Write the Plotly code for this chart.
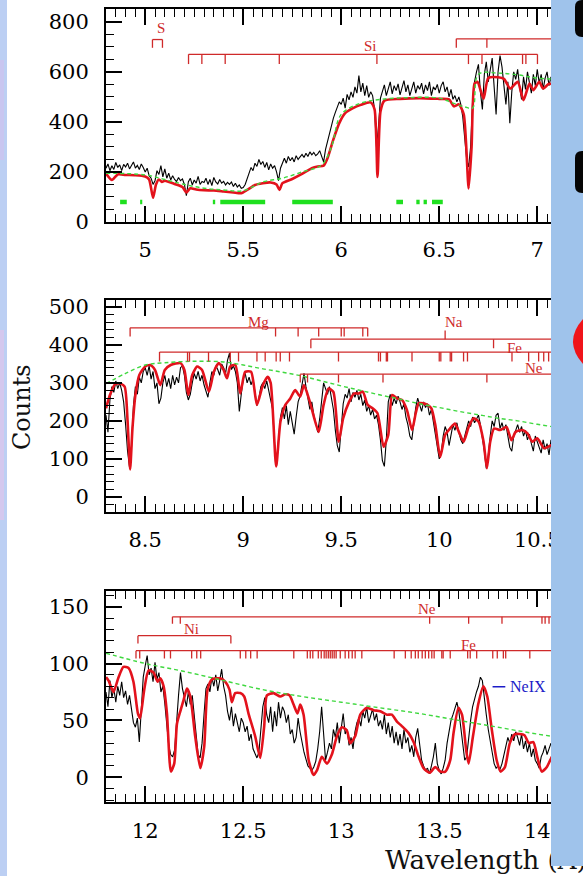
import plotly.graph_objects as go

W, H = 583, 876
BIN = 0.01

# ---------------- panel 1 : Si / S region ----------------
P1_START = 4.80
p1_counts = [
    215, 232, 205, 225, 210, 238, 218, 228, 205, 230,
    220, 235, 212, 228, 240, 215, 226, 210, 232, 218,
    200, 215, 185, 175, 150, 165, 205, 190, 225, 180,
    212, 175, 195, 168, 185, 170, 162, 178, 165, 172,
    150, 105, 160, 175, 148, 168, 155, 182, 150, 162,
    158, 175, 150, 170, 145, 178, 160, 152, 170, 155,
    162, 148, 158, 150, 160, 142, 155, 140, 148, 135,
    138, 150, 172, 190, 218, 205, 235, 222, 250, 230,
    242, 218, 238, 208, 232, 215, 225, 200, 165, 215,
    238, 255, 235, 262, 245, 258, 240, 265, 250, 262,
    270, 258, 275, 262, 280, 268, 278, 265, 272, 285,
    262, 240, 290, 320, 355, 390, 415, 438, 462, 480,
    470, 495, 455, 510, 488, 520, 498, 540, 515, 585,
    520, 555, 505, 545, 498, 520, 505, 450, 300, 380,
    495, 520, 548, 505, 535, 560, 512, 545, 525, 552,
    508, 540, 565, 520, 548, 505, 538, 560, 515, 545,
    530, 555, 512, 548, 525, 560, 505, 540, 528, 550,
    515, 545, 560, 520, 540, 500, 530, 490, 505, 480,
    500, 470, 420, 320, 250, 220, 300, 480, 560, 600,
    630, 520, 450, 590, 640, 560, 610, 655, 540, 430,
    600, 665, 620, 530, 470, 560, 395, 520, 600, 570,
    610, 540, 490, 580, 530, 600, 560, 515, 590, 545,
    610, 555, 590, 530, 575, 600, 545, 580, 560, 590, 570,
]
p1_model_wl = [4.80, 4.83, 4.86, 4.90, 4.95, 5.00, 5.02, 5.04, 5.055, 5.07, 5.085, 5.10,
               5.15, 5.19, 5.21, 5.23, 5.26, 5.30, 5.35, 5.40, 5.45, 5.49, 5.52, 5.56,
               5.60, 5.64, 5.67, 5.685, 5.70, 5.75, 5.80, 5.85, 5.88, 5.91, 5.93, 5.96,
               5.99, 6.02, 6.06, 6.10, 6.15, 6.17, 6.185, 6.20, 6.22, 6.30, 6.40, 6.50,
               6.55, 6.575, 6.60, 6.625, 6.65, 6.665, 6.68, 6.695, 6.726, 6.75, 6.80,
               6.83, 6.862, 6.90, 6.93, 6.96, 6.98, 7.01, 7.03, 7.06, 7.10, 7.20]
p1_model = [194, 168, 190, 188, 187, 182, 170, 97, 150, 170, 160, 165,
            152, 140, 118, 135, 130, 127, 126, 122, 118, 115, 128, 148,
            155, 158, 150, 128, 155, 172, 192, 215, 222, 225, 255, 330,
            395, 435, 455, 468, 478, 450, 180, 440, 485, 492, 495, 492,
            490, 462, 470, 430, 134, 300, 553, 560, 493, 575, 578,
            572, 533, 560, 487, 553, 527, 560, 533, 552, 548, 550]
p1_cont_wl = [4.80, 5.00, 5.10, 5.20, 5.30, 5.40, 5.50, 5.60, 5.70, 5.80, 5.90, 5.95,
              6.00, 6.10, 6.20, 6.35, 6.50, 6.57, 6.63, 6.67, 6.70, 6.80, 6.90, 7.00, 7.20]
p1_cont = [195, 188, 170, 150, 135, 128, 125, 160, 175, 200, 228, 300,
           430, 475, 490, 497, 495, 475, 460, 455, 590, 595, 588, 575, 568]
p1_fit_ranges = [(4.872, 4.906), (4.974, 4.985), (5.345, 5.357), (5.383, 5.612),
                 (5.750, 5.957), (6.281, 6.315), (6.383, 6.400), (6.420, 6.437),
                 (6.463, 6.518)]
P1_FIT_LEVEL = 80
# name, bar level, tick drop, bar start, bar end, tick wavelengths
p1_ids = [
    ("S", 729, 33, 5.037, 5.088, [5.037, 5.088]),
    ("Si", 670, 39, 5.221, 7.001,
     [5.221, 5.289, 5.408, 5.684, 6.182, 6.649, 6.718, 6.925, 6.942, 7.001]),
    ("", 732, 36, 6.587, 7.6, [6.587, 6.743]),
]
p1_labels = [("S", 5.082, 775), ("Si", 6.148, 705)]

# ---------------- panel 2 : Mg / Na / Fe / Ne region ----------------
P2_START = 8.30
p2_counts = [
    215, 170, 255, 290, 275, 305, 285, 300, 280, 250,
    190, 120, 78, 130, 240, 290, 270, 315, 300, 330,
    340, 320, 345, 310, 330, 285, 300, 245, 260, 300,
    320, 290, 312, 285, 320, 295, 315, 300, 340, 345,
    320, 275, 255, 270, 300, 325, 310, 330, 305, 320,
    295, 275, 262, 300, 330, 320, 345, 335, 320, 350,
    340, 325, 360, 378, 335, 345, 330, 300, 225, 270,
    310, 325, 300, 315, 295, 310, 280, 240, 260, 290,
    300, 285, 305, 280, 260, 230, 140, 82, 150, 210,
    235, 205, 240, 190, 225, 195, 165, 210, 250, 265,
    300, 325, 290, 260, 230, 250, 215, 195, 170, 205,
    250, 300, 285, 270, 290, 260, 230, 175, 135, 118,
    190, 245, 270, 260, 285, 250, 275, 262, 280, 255,
    270, 240, 255, 225, 240, 215, 230, 205, 215, 190,
    150, 95, 80, 150, 250, 270, 240, 260, 245, 265,
    250, 230, 245, 210, 190, 160, 150, 195, 235, 260,
    245, 225, 250, 235, 245, 215, 230, 200, 170, 130,
    100, 115, 160, 185, 170, 135, 165, 190, 175, 195,
    170, 150, 140, 160, 175, 200, 185, 210, 195, 205,
    215, 190, 160, 120, 75, 110, 160, 200, 185, 215,
    220, 180, 195, 175, 190, 155, 130, 120, 160, 175,
    190, 170, 185, 160, 175, 150, 165, 140, 120, 160,
    145, 130, 115, 150, 125, 140, 110, 150, 135, 145,
    130, 150, 125, 140, 120, 145, 130, 140, 125, 135, 130,
]
p2_model_wl = [8.30, 8.32, 8.345, 8.37, 8.395, 8.41, 8.423, 8.435, 8.45, 8.47, 8.50, 8.525,
               8.55, 8.577, 8.60, 8.63, 8.68, 8.70, 8.72, 8.74, 8.765, 8.79, 8.825, 8.85,
               8.875, 8.90, 8.917, 8.934, 8.96, 8.985, 9.01, 9.04, 9.07, 9.10, 9.125, 9.14,
               9.168, 9.19, 9.215, 9.24, 9.265, 9.29, 9.31, 9.34, 9.385, 9.41, 9.435, 9.46,
               9.487, 9.51, 9.54, 9.565, 9.59, 9.61, 9.635, 9.66, 9.685, 9.716, 9.74, 9.76,
               9.785, 9.81, 9.835, 9.861, 9.88, 9.895, 9.92, 9.94, 9.96, 9.98, 10.005, 10.03,
               10.055, 10.08, 10.10, 10.124, 10.15, 10.175, 10.20, 10.226, 10.243, 10.26,
               10.28, 10.31, 10.343, 10.368, 10.39, 10.425, 10.45, 10.475, 10.50, 10.535,
               10.57, 10.60, 10.70]
p2_model = [233, 268, 296, 299, 290, 200, 72, 180, 268, 321, 343, 347,
            334, 294, 334, 347, 352, 334, 268, 321, 343, 334, 277, 329,
            352, 334, 312, 343, 347, 272, 329, 329, 242, 294, 316, 300,
            80, 198, 242, 259, 281, 264, 294, 250, 171, 242, 285, 276,
            145, 207, 250, 272, 272, 277, 242, 233, 220, 132, 163, 268,
            259, 255, 229, 176, 220, 246, 246, 242, 233, 189, 105, 163,
            180, 193, 171, 145, 184, 207, 198, 145, 75, 145,
            180, 176, 184, 149, 171, 176, 167, 145, 154, 128,
            136, 140, 130]
p2_cont_wl = [8.30, 8.40, 8.50, 8.60, 8.75, 8.90, 9.00, 9.10, 9.20, 9.30, 9.40, 9.50,
              9.60, 9.70, 9.80, 9.90, 10.00, 10.10, 10.20, 10.30, 10.40, 10.50, 10.60, 10.70]
p2_cont = [298, 325, 347, 353, 357, 355, 347, 337, 328, 318, 305, 292,
           280, 268, 257, 245, 235, 225, 216, 207, 200, 191, 183, 177]
p2_ids = [
    ("Mg", 445, 23, 8.423, 9.635, [8.423, 9.165, 9.28, 9.385, 9.50, 9.515, 9.61, 9.635]),
    ("Na", 415, 24, 9.345, 11.2, [9.345, 10.277]),
    ("", 415, -23, 10.03, 10.03, [10.03]),
    ("Fe", 381, 25, 8.573, 11.2,
     [8.573, 8.716, 8.726, 8.823, 8.934, 8.976, 9.07, 9.112, 9.168, 9.189, 9.236,
      9.486, 9.69, 9.70, 9.73, 9.736, 9.861, 10.0, 10.008, 10.056, 10.063, 10.124,
      10.144, 10.371, 10.456, 10.507, 10.533, 10.558]),
    ("Ne", 323, 22, 9.291, 11.2, [9.291, 9.328, 9.486, 9.713, 10.243]),
]
p2_labels = [("Mg", 9.078, 460), ("Na", 10.077, 460), ("Fe", 10.383, 393), ("Ne", 10.485, 340)]

# ---------------- panel 3 : Ne / Fe / Ni region ----------------
P3_START = 11.80
p3_counts = [
    75, 62, 85, 70, 78, 66, 80, 72, 84, 70,
    76, 64, 72, 58, 48, 44, 52, 31, 60, 88,
    98, 107, 90, 96, 84, 101, 86, 92, 75, 80,
    65, 45, 28, 20, 18, 24, 50, 72, 92, 78,
    70, 62, 75, 64, 72, 55, 35, 20, 17, 30,
    55, 78, 82, 75, 88, 80, 90, 76, 85, 95,
    80, 72, 58, 50, 62, 45, 56, 48, 40, 52,
    48, 40, 45, 32, 38, 25, 20, 17, 22, 45,
    62, 70, 55, 48, 62, 40, 58, 45, 66, 52,
    62, 58, 48, 55, 38, 42, 30, 35, 52, 40,
    30, 22, 16, 10, 8, 6, 9, 14, 25, 40,
    62, 35, 15, 22, 30, 25, 42, 35, 48, 30,
    45, 56, 38, 42, 28, 35, 25, 40, 48, 52,
    45, 58, 52, 62, 48, 55, 60, 50, 56, 45,
    50, 42, 55, 38, 48, 35, 45, 30, 40, 28,
    38, 25, 42, 30, 35, 22, 28, 18, 35, 43,
    28, 15, 10, 6, 8, 3, 10, 18, 30, 12,
    6, 3, 8, 15, 30, 42, 50, 55, 60, 66,
    58, 42, 25, 15, 18, 35, 50, 62, 70, 75,
    80, 88, 85, 68, 55, 42, 30, 22, 12, 8,
    10, 7, 12, 20, 28, 35, 30, 38, 32, 40,
    35, 28, 38, 25, 32, 22, 30, 18, 25, 15,
    12, 8, 18, 22, 28, 20, 25, 30, 22, 28, 25,
]
p3_model_wl = [11.80, 11.813, 11.838, 11.864, 11.889, 11.915, 11.94, 11.963, 11.974, 11.995,
               12.017, 12.043, 12.063, 12.077, 12.094, 12.111, 12.131, 12.148, 12.162, 12.179,
               12.196, 12.213, 12.23, 12.255, 12.281, 12.301, 12.318, 12.34, 12.383, 12.408,
               12.43, 12.442, 12.459, 12.485, 12.505, 12.527, 12.561, 12.587, 12.607, 12.621,
               12.655, 12.689, 12.714, 12.736, 12.757, 12.777, 12.791, 12.808, 12.834, 12.859,
               12.876, 12.901, 12.927, 12.952, 12.978, 13.003, 13.029, 13.046, 13.071, 13.097,
               13.13, 13.165, 13.199, 13.233, 13.258, 13.284, 13.309, 13.343, 13.369, 13.395,
               13.42, 13.451, 13.48, 13.505, 13.531, 13.556, 13.573, 13.598, 13.616, 13.638,
               13.65, 13.672, 13.70, 13.725, 13.745, 13.768, 13.793, 13.813, 13.835, 13.86,
               13.886, 13.91, 13.935, 13.957, 13.98, 14.0, 14.023, 14.049, 14.066, 14.10, 14.20]
p3_model = [88, 85, 75, 88, 97, 96, 84, 56, 52, 77,
            94, 92, 84, 87, 80, 56, 5, 12, 47, 58,
            68, 78, 71, 36, 8, 27, 77, 86, 87, 84,
            77, 66, 74, 74, 71, 56, 36, 17, 45, 72,
            74, 71, 73, 72, 64, 56, 64, 55, 15, 2,
            6, 18, 12, 20, 36, 44, 41, 30, 36, 55,
            61, 59, 58, 55, 55, 49, 45, 39, 31, 18,
            8, 4, 9, 5, 5, 15, 39, 61, 55, 23,
            12, 36, 65, 80, 71, 42, 15, 5, 9, 30,
            38, 38, 37, 30, 31, 18, 5, 9, 15, 25, 30]
p3_cont_wl = [11.80, 12.0, 12.2, 12.4, 12.6, 12.8, 13.0, 13.2, 13.4, 13.6, 13.8, 14.0, 14.2]
p3_cont = [109, 100, 93, 85, 77, 71, 66, 61, 56, 50, 44, 38, 33]
p3_fe_lines = [11.953, 11.972, 12.098, 12.129, 12.237, 12.263, 12.283, 12.485, 12.513,
               12.538, 12.571, 12.758, 12.827, 12.842, 12.855, 12.883, 12.898, 12.913,
               12.923, 12.934, 12.944, 12.954, 12.964, 12.974, 12.995, 13.020, 13.038,
               13.056, 13.071, 13.105, 13.270, 13.327, 13.357, 13.378, 13.393, 13.413,
               13.429, 13.446, 13.462, 13.474, 13.513, 13.520, 13.556, 13.645, 13.658,
               13.691, 13.773, 13.796, 13.827, 13.839, 13.962]
p3_ids = [
    ("Ne", 141, 6, 12.139, 14.5, [12.139, 12.179, 13.451, 13.65, 13.82, 14.024, 14.04, 14.06]),
    ("Ni", 124.5, 7, 11.963, 12.437, [11.963, 12.437]),
    ("Fe", 111.3, 7, 11.953, 14.5, p3_fe_lines),
]
p3_labels = [("Ne", 13.437, 148), ("Ni", 12.238, 130.5), ("Fe", 13.65, 116.5)]
NEIX_KEY = (13.772, 13.837, 79.6)

# ---------------- styling ----------------
DATA_COL = "#000000"
MODEL_COL = "#e3121c"
CONT_COL = "#3fd83f"
FIT_COL = "#1fe01f"
ID_COL = "#cf2a2a"
PANEL_BLUE = "#9fc3eb"
TICK_FONT = dict(family="DejaVu Serif", size=21, color="#000000")
ID_FONT = dict(family="Liberation Serif", size=15, color=ID_COL)
TITLE_FONT = dict(family="DejaVu Serif", size=24, color="#111111")

fig = go.Figure()


def bins(start, n):
    return [round(start + BIN * i, 3) for i in range(n)]


def id_trace(ids):
    xs, ys = [], []
    for _, lev, drop, x0, x1, ticks in ids:
        xs += [x0, x1, None]
        ys += [lev, lev, None]
        for t in ticks:
            xs += [t, t, None]
            ys += [lev, lev - drop, None]
    return xs, ys


panels = [
    (P1_START, p1_counts, p1_model_wl, p1_model, p1_cont_wl, p1_cont, p1_ids, p1_labels),
    (P2_START, p2_counts, p2_model_wl, p2_model, p2_cont_wl, p2_cont, p2_ids, p2_labels),
    (P3_START, p3_counts, p3_model_wl, p3_model, p3_cont_wl, p3_cont, p3_ids, p3_labels),
]

annotations = []
for k, (start, counts, mwl, mod, cwl, cont, ids, labels) in enumerate(panels, start=1):
    xa = "x" if k == 1 else f"x{k}"
    ya = "y" if k == 1 else f"y{k}"
    fig.add_trace(go.Scatter(x=bins(start, len(counts)), y=counts, mode="lines",
                             line=dict(color=DATA_COL, width=1.1),
                             xaxis=xa, yaxis=ya, showlegend=False))
    fig.add_trace(go.Scatter(x=mwl, y=mod, mode="lines",
                             line=dict(color=MODEL_COL, width=2.6, shape="spline", smoothing=0.6),
                             xaxis=xa, yaxis=ya, showlegend=False))
    fig.add_trace(go.Scatter(x=cwl, y=cont, mode="lines",
                             line=dict(color=CONT_COL, width=1.4, dash="4px,3px", shape="spline"),
                             xaxis=xa, yaxis=ya, showlegend=False))
    ix, iy = id_trace(ids)
    fig.add_trace(go.Scatter(x=ix, y=iy, mode="lines", line=dict(color=ID_COL, width=1.3),
                             xaxis=xa, yaxis=ya, showlegend=False))
    for name, lx, ly in labels:
        annotations.append(dict(x=lx, y=ly, xref=xa, yref=ya, text=name, showarrow=False,
                                font=ID_FONT, xanchor="center", yanchor="middle"))

# fitted-band markers in panel 1
fx, fy = [], []
for a, b in p1_fit_ranges:
    fx += [a, b, None]
    fy += [P1_FIT_LEVEL, P1_FIT_LEVEL, None]
fig.add_trace(go.Scatter(x=fx, y=fy, mode="lines", line=dict(color=FIT_COL, width=4.5),
                         xaxis="x", yaxis="y", showlegend=False))

# Ne IX key in panel 3
fig.add_trace(go.Scatter(x=[NEIX_KEY[0], NEIX_KEY[1]], y=[NEIX_KEY[2], NEIX_KEY[2]], mode="lines",
                         line=dict(color="#1c1cc8", width=1.6), xaxis="x3", yaxis="y3",
                         showlegend=False))
annotations.append(dict(x=NEIX_KEY[1] + 0.012, y=NEIX_KEY[2], xref="x3", yref="y3", text="NeIX",
                        showarrow=False, xanchor="left", yanchor="middle",
                        font=dict(family="Liberation Serif", size=16, color="#1c1cc8")))

# bottom caption on a full-page pixel overlay (clipped to the page); the side panel covers its tail
fig.add_trace(go.Scatter(x=[385], y=[862], mode="text", text=["Wavelength (Å)"],
                         textposition="middle right",
                         textfont=dict(family="DejaVu Serif", size=26, color="#111111"),
                         xaxis="x4", yaxis="y4", showlegend=False, cliponaxis=True,
                         hoverinfo="skip"))

annotations.append(dict(x=22 / W, y=1 - 407 / H, xref="paper", yref="paper", text="Counts",
                        textangle=-90, showarrow=False, xanchor="center", yanchor="middle",
                        font=TITLE_FONT))


def px(x):
    return x / W


def py(y):
    return 1 - y / H


X_LEFT, X_RIGHT = 106, 570
frames = [
    ((4.80, 7.167), (222, 9), (0, 851), 200, 50),
    ((8.30, 10.667), (512, 299.7), (-40, 519), 100, 20),
    ((11.80, 14.167), (802.3, 590.7), (-22, 164), 50, 10),
]
layout_axes = {}
for k, (xr, (yb, yt), yr, ydt, ymn) in enumerate(frames, start=1):
    sx = "" if k == 1 else str(k)
    common = dict(showline=True, linecolor="black", linewidth=2, mirror="allticks",
                  ticks="inside", ticklen=16, tickwidth=1.5, tickcolor="black",
                  showgrid=False, zeroline=False, tickfont=TICK_FONT, fixedrange=True,
                  automargin=False)
    layout_axes[f"xaxis{sx}"] = dict(common, domain=[px(X_LEFT), px(X_RIGHT)], range=list(xr),
                                     anchor=f"y{sx}", dtick=0.5, tick0=0,
                                     ticklabelstandoff=8,
                                     minor=dict(ticks="inside", ticklen=8, tickwidth=1.2,
                                                tickcolor="black", dtick=0.05, showgrid=False))
    layout_axes[f"yaxis{sx}"] = dict(common, domain=[py(yb), py(yt)], range=list(yr),
                                     anchor=f"x{sx}", dtick=ydt, tick0=0,
                                     ticklabelstandoff=11,
                                     minor=dict(ticks="inside", ticklen=8, tickwidth=1.2,
                                                tickcolor="black", dtick=ymn, showgrid=False))
layout_axes["xaxis4"] = dict(domain=[0, 1], range=[0, W], visible=False, anchor="y4",
                             fixedrange=True, automargin=False)
layout_axes["yaxis4"] = dict(domain=[0, 1], range=[H, 0], visible=False, anchor="x4",
                             fixedrange=True, automargin=False)


def rounded_left(x0, y0, y1, r, x1=W):
    return (f"M {px(x1)} {py(y0)} L {px(x0 + r)} {py(y0)} "
            f"Q {px(x0)} {py(y0)} {px(x0)} {py(y0 + r)} "
            f"L {px(x0)} {py(y1 - r)} Q {px(x0)} {py(y1)} {px(x0 + r)} {py(y1)} "
            f"L {px(x1)} {py(y1)} Z")


shapes = [
    # textured slide edge on the left
    dict(type="rect", xref="paper", yref="paper", x0=0, x1=px(7), y0=0, y1=1,
         fillcolor="#bccff3", line=dict(width=0), layer="above"),
    dict(type="rect", xref="paper", yref="paper", x0=0, x1=px(4), y0=py(520), y1=py(330),
         fillcolor="#d4c8ee", line=dict(width=0), layer="above"),
    dict(type="rect", xref="paper", yref="paper", x0=0, x1=px(4), y0=py(160), y1=py(60),
         fillcolor="#c9c6f0", line=dict(width=0), layer="above"),
    # slide side panel and its items, kept inside the page
    dict(type="rect", xref="paper", yref="paper", x0=px(551), x1=1, y0=py(866), y1=1,
         fillcolor=PANEL_BLUE, line=dict(width=0), layer="above"),
    dict(type="path", xref="paper", yref="paper", path=rounded_left(575, 0, 37, 7),
         fillcolor="#050505", line=dict(width=0), layer="above"),
    dict(type="path", xref="paper", yref="paper", path=rounded_left(575, 151, 193, 7),
         fillcolor="#050505", line=dict(width=0), layer="above"),
    dict(type="path", xref="paper", yref="paper",
         path=f"M {px(W)} {py(319)} Q {px(563)} {py(341.5)} {px(W)} {py(364)} Z",
         fillcolor="#f0141a", line=dict(width=0), layer="above"),
]

fig.update_layout(
    width=W, height=H, margin=dict(l=0, r=0, t=0, b=0, pad=0, autoexpand=False),
    paper_bgcolor="white", plot_bgcolor="rgba(0,0,0,0)",
    showlegend=False, annotations=annotations, shapes=shapes,
    **layout_axes,
)

fig.write_html("out.html")
